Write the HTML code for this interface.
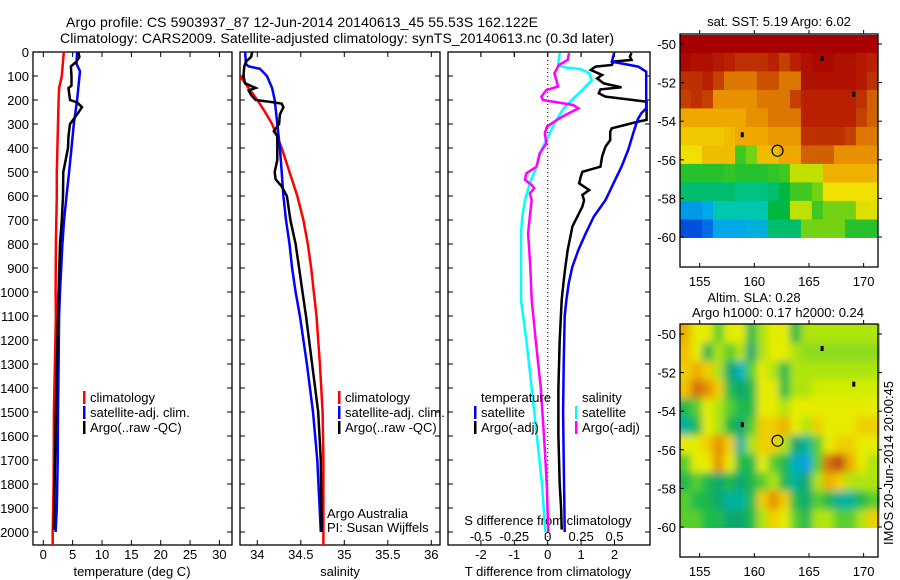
<!DOCTYPE html>
<html><head><meta charset="utf-8"><style>
html,body{margin:0;padding:0;background:#fff;}
svg{display:block;font-family:"Liberation Sans",sans-serif;}
</style></head><body>
<svg id="fig" width="900" height="580" viewBox="0 0 900 580" xmlns="http://www.w3.org/2000/svg">
<defs>
<clipPath id="c1"><rect x="33" y="52" width="199" height="493"/></clipPath>
<clipPath id="c2"><rect x="240" y="52" width="200" height="493"/></clipPath>
<clipPath id="c3"><rect x="448" y="52" width="202" height="493"/></clipPath>
<clipPath id="cm1"><rect x="680" y="35" width="198" height="232"/></clipPath>
<clipPath id="cm2"><rect x="680" y="324" width="200" height="233"/></clipPath>
<filter id="blur" x="-0.1" y="-0.1" width="1.2" height="1.2"><feGaussianBlur stdDeviation="4" edgeMode="duplicate"/><feComponentTransfer><feFuncA type="table" tableValues="1 1"/></feComponentTransfer></filter>
</defs>
<text x="302" y="27" font-size="14" text-anchor="middle" textLength="472">Argo profile: CS 5903937_87 12-Jun-2014 20140613_45 55.53S 162.122E</text>
<text x="337" y="43" font-size="14" text-anchor="middle" textLength="554">Climatology: CARS2009. Satellite-adjusted climatology: synTS_20140613.nc (0.3d later)</text>
<g id="layer"></g>
</svg>
<script>
// ---------- profile data ----------
const tClimDepth=[0,100,150,200,300,400,500,600,800,1000,1100,1500,1800,2000,2054];
const tClimVal=[3.5,3.15,2.7,2.6,2.5,2.4,2.3,2.3,2.15,2.1,2.15,1.8,1.75,1.6,1.6];
const tSatDepth=[0,50,80,200,300,400,500,600,700,800,900,1000,1100,1300,1500,1700,1900,2000];
const tSatVal=[5.75,5.65,6.25,5.75,5.2,4.8,4.4,3.95,3.55,3.25,3.05,2.85,2.7,2.6,2.5,2.45,2.3,2.1];
const tArgoDepth=[0,20,40,60,100,140,150,200,210,230,260,300,350,400,500,600,700,800,1000,1500,1990];
const tArgoVal=[5.95,6.15,5.65,4.7,4.8,4.8,4.3,4.55,5.75,6.6,5.75,4.55,4.3,4.2,3.4,3.35,3.15,2.85,2.6,2.15,1.8];

const sClimDepth=[100,150,200,250,300,400,500,600,700,800,900,1000,1100,1300,1500,1700,2054];
const sClimVal=[33.8,33.9,34.0,34.09,34.17,34.28,34.37,34.46,34.53,34.58,34.62,34.65,34.68,34.72,34.75,34.76,34.76];
const sSatDepth=[0,50,60,70,100,150,200,300,400,500,600,700,800,900,1000,1100,1300,1500,1700,2000];
const sSatVal=[33.86,33.87,33.9,34.03,34.11,34.17,34.2,34.23,34.26,34.28,34.3,34.33,34.37,34.4,34.44,34.49,34.57,34.64,34.69,34.73];
const sArgoDepth=[0,20,40,60,100,130,150,160,180,200,210,215,230,260,300,320,330,350,450,500,530,560,600,700,800,900,1000,1100,1300,1500,1700,2000];
const sArgoVal=[33.94,33.93,33.87,33.85,33.84,33.86,33.98,33.9,33.93,33.98,34.19,34.28,34.3,34.26,34.25,34.21,34.19,34.23,34.23,34.2,34.21,34.28,34.34,34.38,34.44,34.48,34.52,34.56,34.63,34.7,34.73,34.74];

const dSSatDepth=[4,56,65,70,88,117,158,200,242,297,339,408,478,547,617,686,755,894,1033,1200,1500,1800,2000];
const dSSatVal=[0.09,0.077,0.14,0.24,0.31,0.33,0.26,0.18,0.11,0.05,0.015,-0.047,-0.084,-0.134,-0.17,-0.19,-0.2,-0.2,-0.2,-0.16,-0.1,-0.043,-0.018];
const dSArgoDepth=[4,33,54,89,117,144,158,186,200,221,235,249,269,290,311,339,381,422,478,506,533,554,568,589,617,686,755,894,1033,1200,1400,1600,1800,2000];
const dSArgoVal=[0.16,0.15,0.084,0.05,0.065,0.077,-0.01,-0.047,-0.035,0.19,0.23,0.18,0.11,0.05,-0.005,-0.022,-0.01,-0.06,-0.084,-0.16,-0.17,-0.12,-0.1,-0.134,-0.12,-0.134,-0.147,-0.13,-0.12,-0.09,-0.052,-0.028,-0.007,0.004];
const dTSatDepth=[4,40,61,82,235,256,283,339,408,478,547,617,686,755,825,894,964,1033,1100,1300,1500,1700,1900,2000];
const dTSatVal=[1.99,1.92,2.71,2.95,2.95,2.8,2.69,2.56,2.41,2.21,1.97,1.73,1.38,1.14,0.92,0.74,0.63,0.56,0.51,0.48,0.46,0.48,0.5,0.51];
const dTArgoDepth=[4,19,33,40,54,61,75,96,110,131,147,156,172,186,207,283,290,304,318,332,367,394,436,478,499,519,547,575,596,617,644,727,825,894,964,1033,1200,1400,1600,1800,1900,1990];
const dTArgoVal=[2.51,2.46,2.51,1.97,1.92,1.43,1.29,1.63,1.48,1.68,2.21,1.58,1.53,1.73,2.96,2.96,2.71,2.31,1.92,1.87,1.87,1.73,1.63,1.58,1.04,0.99,0.94,1.24,1.04,1.09,1.04,0.74,0.6,0.53,0.47,0.42,0.36,0.32,0.32,0.36,0.4,0.42];

const depthTicks=[0,100,200,300,400,500,600,700,800,900,1000,1100,1200,1300,1400,1500,1600,1700,1800,1900,2000];
const tempTicks=[0,5,10,15,20,25,30];
const salTicks=[34,34.5,35,35.5,36];
const salTickLabels=['34','34.5','35','35.5','36'];
const dTTicks=[-2,-1,0,1,2];
const dSTicks=[-0.5,-0.25,0,0.25,0.5];
const dSTickLabels=['-0.5','-0.25','0','0.25','0.5'];

// ---------- map data ----------
const mapLonTicks=[155,160,165,170];
const mapLatTicks=[-50,-52,-54,-56,-58,-60];
const argoLon=162.122, argoLat=-55.53;
const sstGrid=[
[8,8,8,8,8,8,8,8,8,8,8,8,8,8,8,8,8,8],
[7.9,7.8,7.8,7.7,7.6,7.5,7.5,7.5,7.6,7.4,7.6,7.8,7.9,7.9,7.8,7.8,7.7,7.6],
[7.5,7.5,7.6,7.4,7.0,7.0,7.0,7.3,7.3,7.0,7.0,7.8,7.8,7.8,7.8,7.8,7.7,7.5],
[7.4,7.5,7.4,6.8,6.8,6.8,6.8,7.0,7.0,7.0,7.4,7.6,7.6,7.6,7.6,7.6,7.5,7.2],
[6.5,6.5,6.5,6.5,6.5,6.5,6.8,6.8,7.0,7.0,7.0,7.6,7.6,7.6,7.6,7.6,7.4,7.2],
[6.2,6.2,6.2,6.2,6.3,6.5,6.5,6.5,6.7,6.7,6.7,7.5,7.5,7.5,7.5,7.4,7.0,7.0],
[6.0,6.0,6.3,6.3,6.3,5.0,5.2,6.3,6.3,6.5,6.5,7.2,7.2,7.2,6.8,6.8,6.8,6.8],
[4.8,4.8,4.8,4.8,4.9,4.8,4.8,4.8,4.9,5.0,5.5,5.5,5.5,6.4,6.4,6.4,6.4,6.4],
[4.3,4.3,4.3,4.3,4.3,4.2,4.2,4.2,4.3,4.5,5.0,5.0,5.2,6.0,6.0,6.0,6.0,6.0],
[3.5,3.5,3.6,4.0,4.0,4.0,4.0,4.0,4.5,4.5,5.5,5.5,5.0,5.2,5.2,5.2,5.8,5.8],
[3.0,3.0,3.2,3.6,3.6,3.6,3.7,3.7,4.3,4.3,4.3,5.2,5.2,5.2,5.2,4.8,4.8,4.8]];
const slaGrid=[
[0.15,0.05,0.05,-0.05,0.05,0.05,-0.1,0.0,0.05,0.05,-0.1,0.0,0.0,0.0,0.0,0.0,0.0,0.0],
[0.12,0.05,-0.1,0.0,-0.05,0.0,-0.15,0.0,0.05,0.05,0.0,-0.02,-0.02,-0.02,-0.02,-0.02,-0.02,-0.02],
[0.1,0.15,0.1,0.0,-0.15,-0.25,-0.05,0.05,0.0,-0.1,0.0,0.0,0.0,0.0,0.0,0.0,0.0,0.0],
[0.12,0.25,0.2,0.1,-0.1,-0.15,-0.1,0.05,0.05,-0.1,0.0,0.0,0.02,0.02,0.02,0.02,0.02,0.02],
[-0.1,-0.05,0.05,0.0,-0.05,-0.1,-0.1,0.05,0.05,0.0,0.05,0.05,0.05,0.05,0.05,0.05,0.05,0.05],
[-0.2,-0.1,0.05,0.0,-0.1,-0.15,-0.05,0.1,0.1,0.15,0.05,0.0,0.1,0.05,0.05,0.05,0.1,0.1],
[0.05,0.05,0.1,0.2,0.1,-0.2,0.0,0.1,0.1,0.0,-0.15,-0.2,-0.05,0.05,0.1,0.1,0.05,0.05],
[-0.05,0.05,0.05,0.2,0.05,-0.1,-0.1,0.05,-0.05,-0.1,-0.25,-0.3,-0.05,0.25,0.3,0.15,0.05,0.0],
[-0.1,-0.05,-0.1,-0.15,-0.1,-0.15,-0.1,-0.05,0.0,-0.1,-0.2,-0.15,0.0,0.15,0.1,0.0,0.0,0.0],
[-0.05,-0.1,-0.1,-0.15,-0.2,-0.2,-0.1,0.1,0.2,0.1,-0.1,-0.15,-0.05,-0.1,-0.2,-0.2,-0.1,-0.05],
[-0.05,-0.05,-0.1,-0.1,-0.15,-0.15,-0.1,0.0,0.1,0.05,-0.05,-0.1,0.0,0.0,-0.05,-0.05,0.0,0.1]];

const NS='http://www.w3.org/2000/svg';
const layer=document.getElementById('layer');
function mk(tag,attrs,parent){const e=document.createElementNS(NS,tag);for(const k in attrs)e.setAttribute(k,attrs[k]);(parent||layer).appendChild(e);return e;}
function txt(x,y,s,size,anchor,parent){const t=mk('text',{x:x,y:y,'font-size':size,'text-anchor':anchor||'start'},parent);t.textContent=s;return t;}

const Y0=52,Y1=545;
function yDepth(d){return Y0+d*0.24;}
const P=[{x0:33,x1:232,clip:'c1',ax:v=>43.3+v*5.87},{x0:240,x1:440,clip:'c2',ax:v=>257.3+(v-34)*87},{x0:448,x1:650,clip:'c3',ax:v=>547.7+v*33.4}];
const axS=v=>547.7+v*133.6;

function line(depths,vals,xf,color,clip,name,w){
  let d='';depths.forEach((dp,i)=>{d+=(i?'L':'M')+xf(vals[i]).toFixed(1)+' '+yDepth(dp).toFixed(1);});
  const p=mk('path',{d:d,fill:'none',stroke:color,'stroke-width':w||2,'clip-path':'url(#'+clip+')'});
  
  
}

P.forEach((p,i)=>{
  const g=mk('g',{});
  
  
  mk('rect',{x:p.x0,y:Y0,width:p.x1-p.x0,height:Y1-Y0,fill:'none',stroke:'#000','stroke-width':1.3},g);
  depthTicks.forEach(d=>{const y=yDepth(d);mk('line',{x1:p.x0,x2:p.x0+5,y1:y,y2:y,stroke:'#000'},g);mk('line',{x1:p.x1,x2:p.x1-5,y1:y,y2:y,stroke:'#000'},g);});
});
depthTicks.forEach(d=>{const t=txt(29,yDepth(d)+5,String(d),13,'end');
  
  });
function xticks(p,ticks,labels){ticks.forEach((v,i)=>{const x=p.ax(v);mk('line',{x1:x,x2:x,y1:Y0,y2:Y0+5,stroke:'#000'});mk('line',{x1:x,x2:x,y1:Y1,y2:Y1-5,stroke:'#000'});
  const t=txt(x,559,labels[i],13,'middle');
  
  });}
xticks(P[0],tempTicks,tempTicks.map(String));
xticks(P[1],salTicks,salTickLabels);
xticks(P[2],dTTicks,dTTicks.map(String));
dSTicks.forEach((v,i)=>{const x=axS(v);mk('line',{x1:x,x2:x,y1:Y0,y2:Y0+5,stroke:'#000'});
  const t=txt(x,541,dSTickLabels[i],13,'middle');
  
  });
mk('line',{x1:axS(0),x2:axS(0),y1:Y0,y2:Y1,stroke:'#000','stroke-dasharray':'1,3'});

[['temperature (deg C)',132],['salinity',340],['T difference from climatology',548]].forEach(a=>{const t=txt(a[1],576,a[0],13,'middle');
  
  });
let t0=txt(548,525,'S difference from climatology',13,'middle');



line(tClimDepth,tClimVal,P[0].ax,'#ff0000','c1','temp-climatology-line',2.5);
line(tSatDepth,tSatVal,P[0].ax,'#0000ff','c1','temp-satellite-line',2.5);
line(tArgoDepth,tArgoVal,P[0].ax,'#000000','c1','temp-argo-line',2.5);
line(sClimDepth,sClimVal,P[1].ax,'#ff0000','c2','sal-climatology-line',2.5);
line(sSatDepth,sSatVal,P[1].ax,'#0000ff','c2','sal-satellite-line',2.5);
line(sArgoDepth,sArgoVal,P[1].ax,'#000000','c2','sal-argo-line',2.5);
line(dSSatDepth,dSSatVal,axS,'#00ffff','c3','sdiff-satellite-line',2.5);
line(dSArgoDepth,dSArgoVal,axS,'#ff00ff','c3','sdiff-argo-line',2.5);
line(dTArgoDepth,dTArgoVal,P[2].ax,'#000000','c3','tdiff-argo-line',2.5);
line(dTSatDepth,dTSatVal,P[2].ax,'#0000ff','c3','tdiff-satellite-line',2.5);

function legend(x,y,color,label){const g=mk('g',{});
  
  
  if(color)mk('rect',{x:x,y:y-11,width:2.5,height:13,fill:color},g);
  txt(x+7,y,label,13,'start',g);}
legend(83,402,'#ff0000','climatology');legend(83,417,'#0000ff','satellite-adj. clim.');legend(83,432,'#000000','Argo(..raw -QC)');
legend(338,402,'#ff0000','climatology');legend(338,417,'#0000ff','satellite-adj. clim.');legend(338,432,'#000000','Argo(..raw -QC)');
legend(474,402,null,'temperature');legend(474,417,'#0000ff','satellite');legend(474,432,'#000000','Argo(-adj)');
legend(575,402,null,'salinity');legend(575,417,'#00ffff','satellite');legend(575,432,'#ff00ff','Argo(-adj)');
let a1=txt(327,518,'Argo Australia',13);
let a2=txt(327,532,'PI: Susan Wijffels',13);

function sstColor(v){const s=[[3.0,[0,80,224]],[3.6,[0,168,232]],[4.0,[0,200,176]],[4.5,[0,184,64]],[5.0,[64,200,32]],[5.5,[192,224,0]],[6.0,[240,224,0]],[6.4,[240,176,0]],[6.8,[232,144,0]],[7.2,[208,96,0]],[7.6,[184,32,0]],[8.0,[168,0,0]]];return interp(s,v);}
function slaColor(v){const s=[[-0.3,[16,160,224]],[-0.22,[0,184,176]],[-0.15,[16,168,112]],[-0.08,[32,192,64]],[-0.02,[140,220,30]],[0.02,[210,236,0]],[0.06,[236,236,0]],[0.12,[240,192,0]],[0.2,[232,144,0]],[0.3,[192,80,16]]];return interp(s,v);}
function interp(s,v){if(v<=s[0][0])return 'rgb('+s[0][1]+')';for(let i=1;i<s.length;i++){if(v<=s[i][0]){const f=(v-s[i-1][0])/(s[i][0]-s[i-1][0]);const c=s[i-1][1].map((a,k)=>Math.round(a+(s[i][1][k]-a)*f));return 'rgb('+c+')';}}return 'rgb('+s[s.length-1][1]+')';}

function drawMap(top,grid,colorFn,clip,name,blur){
  const lonX=lon=>680+(lon-153.2)*10.93;
  const latY=lat=>top+10+(-50-lat)*19.3;
  const g=mk('g',{'clip-path':'url(#'+clip+')'});
  
  
  const inner=mk('g',blur?{filter:'url(#blur)'}:{},g);
  const nr=grid.length,nc=grid[0].length,lat0=-49.5,lat1=-60.05,lon0=153.2,lon1=171.3;
  grid.forEach((row,r)=>row.forEach((v,c)=>{
    let xa=lonX(lon0+(lon1-lon0)*c/nc),xb=lonX(lon0+(lon1-lon0)*(c+1)/nc);
    let ya=latY(lat0+(lat1-lat0)*r/nr),yb=latY(lat0+(lat1-lat0)*(r+1)/nr);
    if(blur){if(c===0)xa-=12;if(c===nc-1)xb+=12;if(r===0)ya-=12;}
    const cell=mk('rect',{x:xa.toFixed(1),y:ya.toFixed(1),width:(xb-xa+0.6).toFixed(1),height:(yb-ya+0.6).toFixed(1),fill:colorFn(v)},inner);
    
    
  }));
  mk('rect',{x:670,y:latY(-60.05),width:220,height:50,fill:'#fff'},g);
  [[166.2,-50.75],[169.1,-52.6],[158.9,-54.7]].forEach(p=>mk('rect',{x:lonX(p[0])-1.5,y:latY(p[1])-2.5,width:3,height:5,fill:'#000'},g));
  const fr=mk('rect',{x:680,y:top,width:198,height:233,fill:'none',stroke:'#000','stroke-width':1.3});
  
  
  mapLatTicks.forEach(l=>{const y=latY(l);mk('line',{x1:680,x2:684,y1:y,y2:y,stroke:'#000'});mk('line',{x1:878,x2:882,y1:y,y2:y,stroke:'#000'});
    const t=txt(676,y+5,String(l),13,'end');});
  mapLonTicks.forEach(l=>{const x=lonX(l);mk('line',{x1:x,x2:x,y1:top,y2:top-4,stroke:'#000'});mk('line',{x1:x,x2:x,y1:top+233,y2:top+229,stroke:'#000'});
    const t=txt(x,top+252,String(l),13,'middle');});
  const c=mk('circle',{cx:lonX(argoLon),cy:latY(argoLat),r:5.5,fill:'none',stroke:'#000','stroke-width':1.2});
  
  
}
drawMap(34,sstGrid,sstColor,'cm1','sst-map',false);
drawMap(324,slaGrid,slaColor,'cm2','sla-map',true);
let m1=txt(779,26,'sat. SST: 5.19 Argo: 6.02',13,'middle');
let m2=txt(754,302,'Altim. SLA: 0.28',13,'middle');
let m3=txt(778,317,'Argo h1000: 0.17 h2000: 0.24',13,'middle');
let m4=txt(0,0,'IMOS 20-Jun-2014 20:00:45',13,'middle');m4.setAttribute('transform','translate(893,463) rotate(-90)');

</script>
</body></html>
